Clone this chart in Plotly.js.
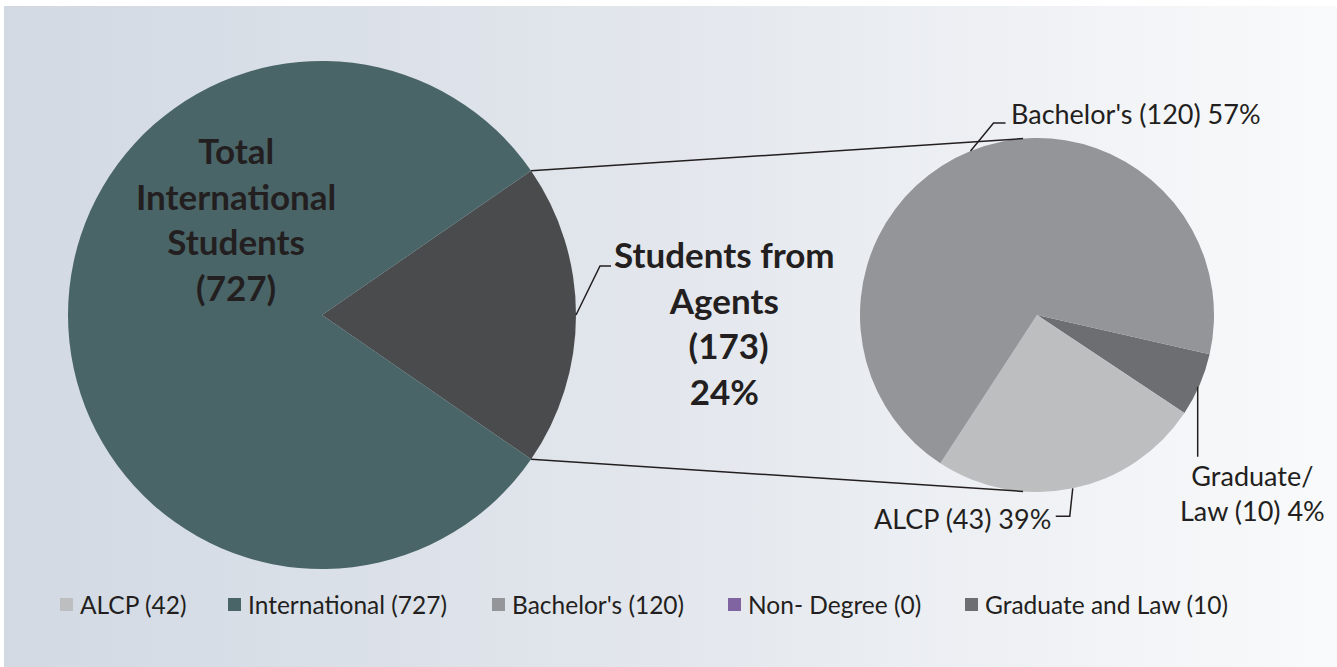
<!DOCTYPE html>
<html><head><meta charset="utf-8">
<script src="https://cdn.plot.ly/plotly-3.0.1.min.js"></script>
<style>
html,body{margin:0;padding:0;background:#fff;}
#wrap{position:relative;width:1337px;height:667px;overflow:hidden;background:#fff;}
#bg{position:absolute;left:4px;top:6px;right:0;bottom:0;background:linear-gradient(to right,#d2d9e3 0%,#e3e7ed 50%,#f9fafb 100%);}
#chart{position:absolute;left:0;top:0;width:1337px;height:667px;}
</style></head><body>
<div id="wrap"><div id="bg"></div><div id="chart"></div></div>
<script>
// ---------- data ----------
const overviewLabels = ['Students from Agents', 'Total International Students'];
const overviewValues = [173, 727];
const overviewText = ['Students from<br>Agents<br> (173)<br>24%', 'Total<br>International<br>Students<br>(727)'];

const agentLabels = ['Graduate/Law', 'ALCP', "Bachelor's"];
const agentValues = [10, 43, 120];
const agentText = ['Graduate/<br>Law (10) 4%', 'ALCP (43) 39%', "Bachelor's (120) 57%"];

const legendLabels = ['ALCP (42)', 'International (727)', "Bachelor's (120)", 'Non- Degree (0)', 'Graduate and Law (10)'];

// ---------- styles ----------
const overviewColors = ['#4a4b4d', '#4a6568'];
const agentColors = ['#6d6e71', '#bcbec0', '#939598'];
const legendColors = ['#bcbec0', '#4a6568', '#939598', '#8064a2', '#6d6e71'];
const textColor = '#231f20';
const FONT = 'Lato, "Open Sans", sans-serif';

// ---------- geometry (pixels) ----------
const W = 1337, H = 667;
const L = {cx: 322, cy: 315, r: 254};
const R = {cx: 1037, cy: 315, r: 177};
const px = x => x / W;
const py = y => 1 - y / H;
const dom = c => ({x: [px(c.cx - c.r), px(c.cx + c.r)], y: [py(c.cy + c.r), py(c.cy - c.r)]});
const sum = a => a.reduce((s, v) => s + v, 0);

const leftRot = 90 - overviewValues[0] / sum(overviewValues) * 180;
const rightRot = 102.8;

function sliceAngles(values, rot) {
  const t = sum(values); let a = rot;
  return values.map(v => { const a0 = a; a += v / t * 360; return [a0, a]; });
}
function pt(c, deg, rr) {
  const rad = deg * Math.PI / 180;
  return [c.cx + (rr === undefined ? c.r : rr) * Math.sin(rad), c.cy - (rr === undefined ? c.r : rr) * Math.cos(rad)];
}
const leftAng = sliceAngles(overviewValues, leftRot);
const rightAng = sliceAngles(agentValues, rightRot);
const mid = a => (a[0] + a[1]) / 2;

const traces = [
  {type: 'pie', labels: overviewLabels, values: overviewValues, sort: false, direction: 'clockwise',
   rotation: leftRot, domain: dom(L), textinfo: 'none', hoverinfo: 'label+value',
   marker: {colors: overviewColors, line: {width: 0}}, showlegend: false},
  {type: 'pie', labels: agentLabels, values: agentValues, sort: false, direction: 'clockwise',
   rotation: rightRot, domain: dom(R), textinfo: 'none', hoverinfo: 'label+value',
   marker: {colors: agentColors, line: {width: 0}}, showlegend: false}
];

const shapes = [];
const annotations = [];
const lineStyle = {color: textColor, width: 1.5};
function pathOf(points) {
  return points.map((p, i) => (i ? 'L' : 'M') + px(p[0]).toFixed(5) + ',' + py(p[1]).toFixed(5)).join(' ');
}
function addPath(points) {
  shapes.push({type: 'path', xref: 'paper', yref: 'paper', path: pathOf(points), line: lineStyle});
}

// series lines joining the two pies
const sTop = pt(L, leftAng[0][0]), sBot = pt(L, leftAng[0][1]);
addPath([sTop, pt(R, -4.5)]);
addPath([sBot, pt(R, 184.5)]);

// leader lines
const pAg = pt(L, mid(leftAng[0]));
addPath([pAg, [pAg[0] + 24, pAg[1] - 49], [pAg[0] + 35, pAg[1] - 49]]);
const pGr = pt(R, mid(rightAng[0]));
addPath([[pGr[0] - 2, pGr[1] + 2], [pGr[0] - 2, pGr[1] + 72]]);
const pAl = pt(R, mid(rightAng[1]));
addPath([pAl, [pAl[0] - 3, pAl[1] + 28], [pAl[0] - 17, pAl[1] + 28]]);
const pBa = pt(R, mid(rightAng[2]));
addPath([pBa, [pBa[0] + 23, pBa[1] - 28], [pBa[0] + 35, pBa[1] - 28]]);

function ann(text, x, y, xanchor, size, bold) {
  annotations.push({text: bold ? '<b>' + text + '</b>' : text, x: px(x), y: py(y), xref: 'paper', yref: 'paper',
    xanchor: xanchor, yanchor: 'middle', align: xanchor === 'left' ? 'left' : (xanchor === 'right' ? 'right' : 'center'),
    showarrow: false, font: {family: FONT, size: size, color: textColor}});
}
// big labels
ann(overviewText[1], 236, 218, 'center', 35, true);
ann(overviewText[0], 724, 322, 'center', 35, true);
// small labels
ann(agentText[2], pBa[0] + 38, pBa[1] - 37, 'left', 27, false);
ann(agentText[1], pAl[0] - 20, pAl[1] + 30, 'right', 27, false);
ann(agentText[0], pGr[0] + 53, pGr[1] + 108, 'center', 27, false);

// legend
const legendX = [60, 228, 492, 728, 965];
const legendY = 604;
legendLabels.forEach((lab, i) => {
  shapes.push({type: 'rect', xref: 'paper', yref: 'paper', x0: px(legendX[i]), x1: px(legendX[i] + 13),
    y0: py(legendY + 7), y1: py(legendY - 6), fillcolor: legendColors[i], line: {width: 0}});
  ann(lab, legendX[i] + 18, legendY, 'left', 24.5, false);
});

const layout = {
  width: W, height: H,
  margin: {l: 0, r: 0, t: 0, b: 0},
  paper_bgcolor: 'rgba(0,0,0,0)', plot_bgcolor: 'rgba(0,0,0,0)',
  showlegend: false,
  shapes: shapes, annotations: annotations,
  font: {family: FONT, color: textColor}
};
Plotly.newPlot('chart', traces, layout, {displayModeBar: false, staticPlot: true});
</script>
</body></html>
